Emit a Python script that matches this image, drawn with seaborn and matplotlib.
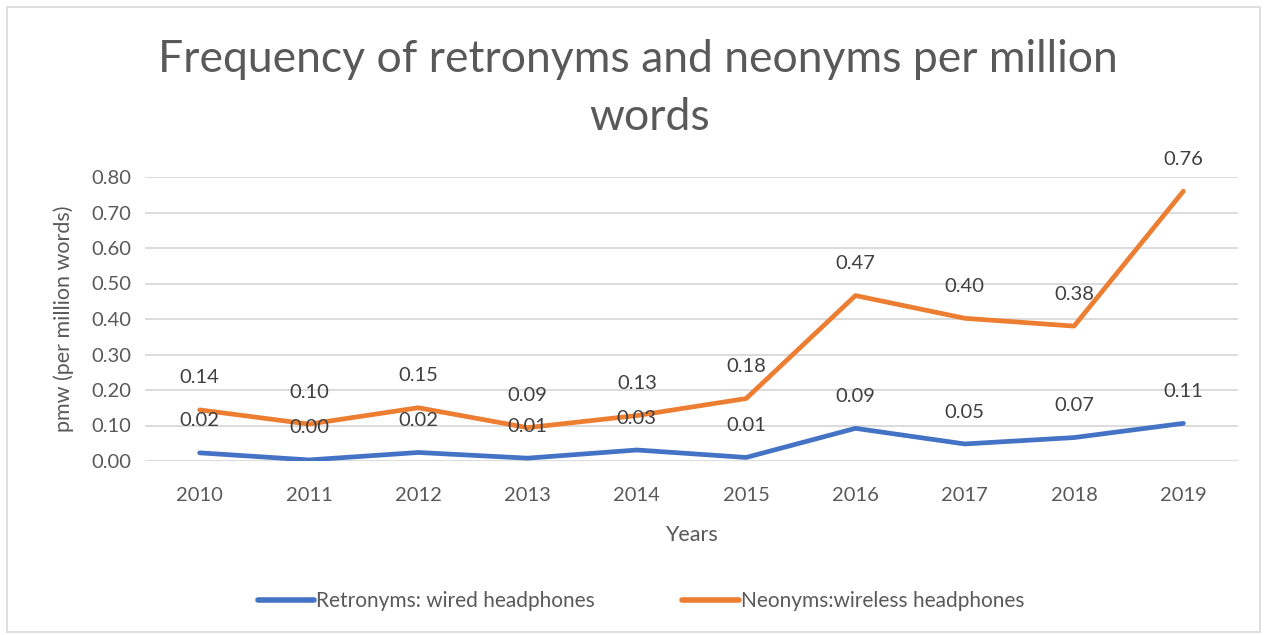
import matplotlib
matplotlib.use("Agg")
import matplotlib.pyplot as plt
import seaborn as sns
import pandas as pd
from matplotlib.patches import Rectangle
from matplotlib.lines import Line2D

years = ["2010", "2011", "2012", "2013", "2014", "2015", "2016", "2017", "2018", "2019"]
retronyms = [0.023, 0.003, 0.024, 0.008, 0.031, 0.010, 0.092, 0.048, 0.066, 0.106]
neonyms = [0.144, 0.104, 0.150, 0.094, 0.128, 0.176, 0.466, 0.402, 0.380, 0.760]
series_names = ["Retronyms: wired headphones", "Neonyms:wireless headphones"]
yticks = [0.0, 0.1, 0.2, 0.3, 0.4, 0.5, 0.6, 0.7, 0.8]

sns.set_theme(style="white")
plt.rcParams['font.family'] = ['Lato', 'DejaVu Sans']
text_color = "#595959"

df = pd.DataFrame({
    "Year": years * 2,
    "value": retronyms + neonyms,
    "series": [series_names[0]] * len(years) + [series_names[1]] * len(years),
})

fig = plt.figure(figsize=(12.68, 6.35), dpi=100)
ax = fig.add_axes([145 / 1268, 1 - 461 / 635, (1238 - 145) / 1268, (461 - 177) / 635])

palette = {series_names[0]: "#4472C4", series_names[1]: "#ED7D31"}
sns.lineplot(data=df, x="Year", y="value", hue="series", palette=palette,
             linewidth=3.4, ax=ax, sort=False, legend=False,
             solid_capstyle="round", solid_joinstyle="round")

ax.set_xlim(-0.5, len(years) - 0.5)
ax.set_ylim(0, 0.8)
ax.set_yticks(yticks)
ax.set_yticklabels([f"{v:.2f}" for v in yticks])
ax.grid(axis="y", color="#D9D9D9", linewidth=1.3)
ax.set_axisbelow(True)
for s in ax.spines.values():
    s.set_visible(False)
ax.tick_params(axis="both", length=0, labelsize=14.5, colors=text_color, pad=10)
ax.tick_params(axis="x", pad=19)
ax.set_xlabel("Years", fontsize=15.5, color=text_color, labelpad=15)
ax.set_ylabel("pmw (per million words)", fontsize=15.5, color=text_color, labelpad=12)

for vals in (retronyms, neonyms):
    for i, v in enumerate(vals):
        ax.annotate(f"{v:.2f}", (i, v), xytext=(0, 23), textcoords="offset points",
                    ha="center", va="center", fontsize=14.5, color="#404040")

fig.text(638 / 1268, 1 - 60 / 635, "Frequency of retronyms and neonyms per million",
         ha="center", va="center", fontsize=32, color=text_color)
fig.text(650 / 1268, 1 - 118 / 635, "words", ha="center", va="center",
         fontsize=32, color=text_color)

handles = [Line2D([0], [0], color=palette[n], linewidth=4, solid_capstyle="round") for n in series_names]
leg = fig.legend(handles, series_names, loc="center", bbox_to_anchor=(641 / 1268, 1 - 601 / 635),
                 ncol=2, frameon=False, fontsize=15, handlelength=2.7, handletextpad=0.1,
                 columnspacing=4.2)
for t in leg.get_texts():
    t.set_color(text_color)

fig.patches.append(Rectangle((7 / 1268, 3 / 635), 1253 / 1268, 625 / 635, transform=fig.transFigure,
                             fill=False, edgecolor="#D9D9D9", linewidth=1.2))

fig.savefig("out.png", dpi=100, facecolor="white")
